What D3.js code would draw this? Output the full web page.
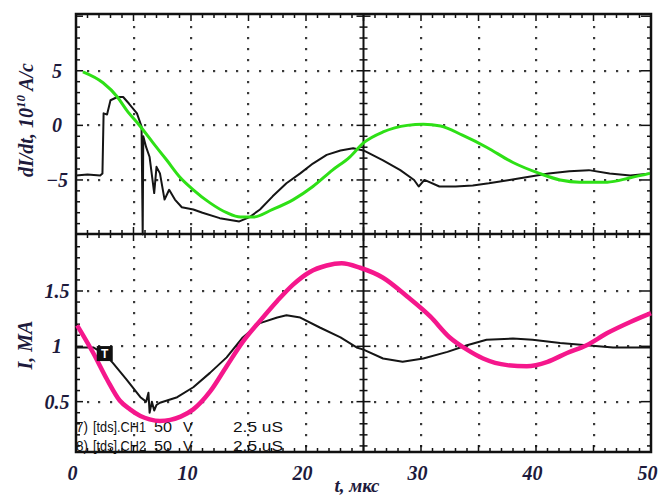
<!DOCTYPE html>
<html>
<head>
<meta charset="utf-8">
<script src="https://cdn.jsdelivr.net/npm/d3@7"></script>
<style>
  body { margin: 0; background: #fff; }
  svg { display: block; }
  .lbl { font-family: "Liberation Serif", "DejaVu Serif", serif; font-style: italic; font-weight: bold; fill: #1d1a3c; }
  .leg { font-family: "Liberation Sans", Arial, sans-serif; font-size: 15px; fill: #111; }
</style>
</head>
<body>
<script>
// time axis, microseconds
var xTicks = [0, 10, 20, 30, 40, 50];
var topTicks = [5, 0, -5];
var botTicks = [1.5, 1, 0.5];

// dI/dt measured (black), 10^10 A/c
var dIdtMeasT = [0, 1, 2.1, 2.3, 2.4, 2.7, 3.0, 3.6, 4.1, 4.6, 5.3, 5.7, 5.8, 5.85, 6.1, 6.4, 6.8, 7.0, 7.3, 7.7, 8.1, 8.6, 9.2, 10.2, 11.0, 12.5, 14.2, 15.1, 16.0, 17.1, 18.3, 19.5, 20.6, 21.8, 23.0, 24.1, 25.0, 26.7, 28.2, 29.4, 29.8, 30.3, 31.6, 33.0, 34.5, 35.9, 37.7, 39.4, 41.1, 42.9, 44.6, 46.4, 48.2, 50];
var dIdtMeasV = [-4.6, -4.5, -4.6, -4.4, 1.1, 1.0, 2.3, 2.6, 2.6, 2.0, 1.1, -0.1, -10, -1.0, -2.0, -2.9, -6.2, -3.8, -4.4, -6.8, -5.9, -6.8, -7.5, -7.7, -8.0, -8.5, -8.8, -8.4, -7.7, -6.5, -5.3, -4.4, -3.5, -2.7, -2.3, -2.1, -2.3, -3.2, -4.1, -5.0, -5.6, -5.0, -5.6, -5.6, -5.5, -5.3, -5.0, -4.7, -4.4, -4.2, -4.1, -4.4, -4.6, -4.4];

// dI/dt model (green)
var dIdtModT = [0.6, 2.35, 3.6, 4.4, 5.6, 6.7, 7.9, 9.0, 10.2, 11.65, 13.1, 14.3, 15.4, 17.1, 18.9, 20.6, 22.3, 23.8, 25.0, 26.7, 28.8, 30.2, 31.7, 33.6, 35.7, 38.0, 40.3, 42.1, 43.8, 46.2, 48.2, 49.9];
var dIdtModV = [4.9, 3.9, 2.6, 1.4, -0.1, -1.6, -3.2, -4.7, -5.9, -7.1, -8.0, -8.4, -8.4, -7.7, -6.8, -5.6, -4.1, -2.9, -1.6, -0.6, 0.0, 0.1, -0.05, -0.9, -2.0, -3.4, -4.4, -5.0, -5.2, -5.2, -4.8, -4.4];

// current measured (black), MA
var curMeasT = [0, 1.5, 2.5, 3.2, 4.4, 5.6, 6.1, 6.3, 6.4, 6.6, 6.8, 7.0, 7.3, 8.8, 10.2, 11.65, 13.1, 14.5, 16.0, 17.5, 18.3, 19.5, 21.2, 23.0, 24.4, 25.0, 26.7, 28.4, 30.2, 32.3, 34.0, 35.7, 38.0, 39.7, 42.1, 44.4, 46.7, 50];
var curMeasV = [0.99, 0.99, 0.93, 0.85, 0.70, 0.54, 0.50, 0.58, 0.40, 0.50, 0.42, 0.47, 0.49, 0.54, 0.63, 0.76, 0.90, 1.08, 1.21, 1.26, 1.28, 1.26, 1.17, 1.08, 0.99, 0.97, 0.89, 0.86, 0.89, 0.95, 1.01, 1.06, 1.07, 1.06, 1.03, 1.01, 0.99, 0.99];

// current model (pink)
var curModT = [0.1, 1.5, 2.7, 3.8, 4.7, 5.6, 6.4, 7.3, 8.2, 9.1, 10.2, 11.65, 13.1, 14.5, 16.0, 17.5, 18.9, 20.3, 21.8, 23.1, 24.7, 26.7, 28.8, 30.8, 32.5, 34.0, 35.4, 37.5, 39.2, 41.0, 42.7, 44.4, 46.2, 48.2, 50];
var curModV = [1.19, 0.94, 0.70, 0.51, 0.43, 0.37, 0.34, 0.325, 0.335, 0.365, 0.43, 0.59, 0.82, 1.04, 1.23, 1.41, 1.56, 1.67, 1.73, 1.75, 1.71, 1.62, 1.45, 1.27, 1.08, 0.97, 0.89, 0.83, 0.82, 0.86, 0.94, 1.01, 1.12, 1.22, 1.30];

var triggerMark = [2.5, 0.93];

var legendRows = [
  ["7)", "[tds].CH1", "50", "V", "2.5 uS"],
  ["8)", "[tds].CH2", "50", "V", "2.5 uS"]
];

var W = 658, H = 497;
var x = d3.scaleLinear().domain([0, 50]).range([76, 651]);
var yTop = d3.scaleLinear().domain([-9.95, 10.2]).range([234, 14]);
var yBot = d3.scaleLinear().domain([0.045, 2.015]).range([452, 234]);

var svg = d3.select("body").append("svg").attr("width", W).attr("height", H);

// dotted grid
var grid = svg.append("g").attr("fill", "#3a3a3a");
function dot(px, py) {
  grid.append("rect").attr("x", Math.round(px) - 1).attr("y", Math.round(py) - 1)
    .attr("width", 2.2).attr("height", 2.2);
}
var gridX = [5, 10, 15, 20, 30, 35, 40, 45];
gridX.forEach(function (t) {
  d3.range(-9, 10).forEach(function (v) { dot(x(t), yTop(v)); });
  d3.range(1, 20).forEach(function (i) { dot(x(t), yBot(i / 10)); });
});
topTicks.forEach(function (v) {
  d3.range(1, 50).forEach(function (t) { if (t % 5) dot(x(t), yTop(v)); });
});
botTicks.forEach(function (v) {
  d3.range(1, 50).forEach(function (t) { if (t % 5) dot(x(t), yBot(v)); });
});

// legend text (under the curves)
var leg = svg.append("g").attr("class", "leg");
var legX = [76, 93, 154, 183, 233];
var legW = [12, 53, 18, 10, 50];
legendRows.forEach(function (row, i) {
  row.forEach(function (s, j) {
    leg.append("text").attr("x", legX[j]).attr("y", 432 + i * 19)
      .attr("textLength", legW[j]).attr("lengthAdjust", "spacingAndGlyphs").text(s);
  });
});

// frame, divider and centre line with scope ticks
var fr = svg.append("g").attr("stroke", "#111").attr("fill", "none");
fr.append("rect").attr("x", 76).attr("y", 14).attr("width", 575).attr("height", 438).attr("stroke-width", 2.5);
fr.append("line").attr("x1", 76).attr("x2", 651).attr("y1", 234).attr("y2", 234).attr("stroke-width", 2.5);
fr.append("line").attr("x1", x(25)).attr("x2", x(25)).attr("y1", 14).attr("y2", 452).attr("stroke-width", 2);

var tk = svg.append("g").attr("stroke", "#111").attr("stroke-width", 1.5);
d3.range(1, 50).forEach(function (t) {
  var L = t % 5 === 0 ? 7 : 4;
  var px = x(t);
  tk.append("line").attr("x1", px).attr("x2", px).attr("y1", 14).attr("y2", 14 + L);
  tk.append("line").attr("x1", px).attr("x2", px).attr("y1", 452).attr("y2", 452 - L);
  tk.append("line").attr("x1", px).attr("x2", px).attr("y1", 234 - L).attr("y2", 234 + L);
});
function vTicks(py, major) {
  var L = major ? 7 : 4;
  tk.append("line").attr("x1", 76).attr("x2", 76 + L).attr("y1", py).attr("y2", py);
  tk.append("line").attr("x1", 651).attr("x2", 651 - (major ? 10 : 4)).attr("y1", py).attr("y2", py);
  tk.append("line").attr("x1", x(25) - L).attr("x2", x(25) + L).attr("y1", py).attr("y2", py);
}
d3.range(-9, 11).forEach(function (v) { vTicks(yTop(v), v % 5 === 0); });
d3.range(1, 20).forEach(function (i) { vTicks(yBot(i / 10), i % 5 === 0); });

// curves
function pts(ts, vs) { return ts.map(function (t, i) { return [t, vs[i]]; }); }
var lineTop = d3.line().x(function (d) { return x(d[0]); }).y(function (d) { return yTop(d[1]); });
var lineBot = d3.line().x(function (d) { return x(d[0]); }).y(function (d) { return yBot(d[1]); });

svg.append("path").datum(pts(dIdtMeasT, dIdtMeasV)).attr("d", lineTop)
  .attr("fill", "none").attr("stroke", "#151515").attr("stroke-width", 2).attr("stroke-linejoin", "round");
svg.append("path").datum(pts(dIdtModT, dIdtModV)).attr("d", lineTop.curve(d3.curveMonotoneX))
  .attr("fill", "none").attr("stroke", "#2ee016").attr("stroke-width", 3);

svg.append("path").datum(pts(curMeasT, curMeasV)).attr("d", lineBot)
  .attr("fill", "none").attr("stroke", "#151515").attr("stroke-width", 2).attr("stroke-linejoin", "round");
svg.append("path").datum(pts(curModT, curModV)).attr("d", lineBot.curve(d3.curveMonotoneX))
  .attr("fill", "none").attr("stroke", "#f5178c").attr("stroke-width", 4.5);

// trigger marker
var mx = x(triggerMark[0]), my = yBot(triggerMark[1]);
svg.append("rect").attr("x", mx - 8).attr("y", my - 8).attr("width", 16).attr("height", 15).attr("fill", "#111");
svg.append("text").attr("x", mx).attr("y", my + 4).attr("text-anchor", "middle")
  .attr("font-family", "Liberation Sans, Arial, sans-serif").attr("font-weight", "bold").attr("font-size", 12)
  .attr("fill", "#fff").text("T");

// tick labels via axes
var ax = svg.append("g").attr("transform", "translate(0,452)")
  .call(d3.axisBottom(x).tickValues(xTicks).tickSize(0).tickFormat(d3.format("d")));
ax.select(".domain").remove();
ax.selectAll("text").attr("class", "lbl").attr("font-size", 20).attr("y", 28).attr("dy", 0).attr("dx", -4);

var ayT = svg.append("g").attr("transform", "translate(57,0)")
  .call(d3.axisLeft(yTop).tickValues(topTicks).tickSize(0).tickFormat(d3.format("d")));
ayT.select(".domain").remove();
ayT.selectAll("text").attr("class", "lbl").attr("font-size", 20).attr("x", 0).attr("text-anchor", "middle");

var ayB = svg.append("g").attr("transform", "translate(57,0)")
  .call(d3.axisLeft(yBot).tickValues(botTicks).tickSize(0).tickFormat(function (d) { return String(d); }));
ayB.select(".domain").remove();
ayB.selectAll("text").attr("class", "lbl").attr("font-size", 20).attr("x", 0).attr("text-anchor", "middle");
svg.selectAll(".tick line").remove();

// axis titles
var t1 = svg.append("text").attr("class", "lbl").attr("font-size", 20).attr("text-anchor", "middle")
  .attr("transform", "translate(33,120) rotate(-90)");
t1.append("tspan").text("dI/dt, 10");
t1.append("tspan").attr("font-size", 13).attr("dy", -8).text("10");
t1.append("tspan").attr("dy", 8).text(" A/c");

svg.append("text").attr("class", "lbl").attr("font-size", 20).attr("text-anchor", "middle")
  .attr("transform", "translate(32,345) rotate(-90)").text("I, MA");

svg.append("text").attr("class", "lbl").attr("font-size", 19).attr("text-anchor", "middle")
  .attr("x", 357).attr("y", 492).text("t, мкс");
</script>
</body>
</html>
